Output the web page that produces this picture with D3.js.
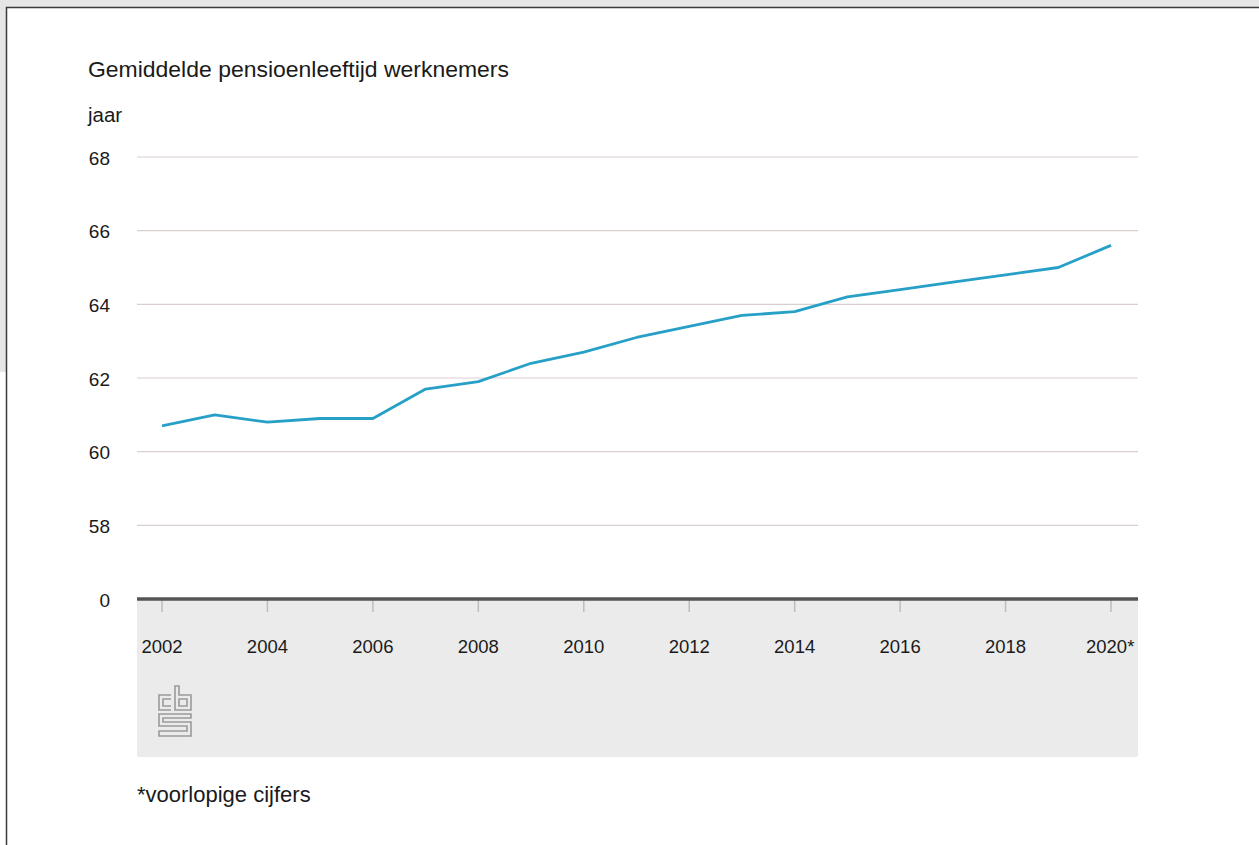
<!DOCTYPE html>
<html><head><meta charset="utf-8">
<script src="https://cdn.jsdelivr.net/npm/d3@7"></script>
<style>
html,body{margin:0;padding:0;background:#e6e6e6;}
svg{display:block;font-family:"Liberation Sans",Arial,sans-serif;}
</style></head>
<body>
<svg id="c" width="1259" height="845"></svg>
<script>
const years = [2002,2003,2004,2005,2006,2007,2008,2009,2010,2011,2012,2013,2014,2015,2016,2017,2018,2019,2020];
const ages  = [60.7,61.0,60.8,60.9,60.9,61.7,61.9,62.4,62.7,63.1,63.4,63.7,63.8,64.2,64.4,64.6,64.8,65.0,65.6];
const yTicks = [56,58,60,62,64,66,68];
const yTickLabels = ["0","58","60","62","64","66","68"];
const xTicks = [2002,2004,2006,2008,2010,2012,2014,2016,2018,2020];
const xTickLabels = ["2002","2004","2006","2008","2010","2012","2014","2016","2018","2020*"];
const title = "Gemiddelde pensioenleeftijd werknemers";
const unit = "jaar";
const footnote = "*voorlopige cijfers";

const svg = d3.select("#c");
// page background & panel
svg.append("rect").attr("x",0).attr("y",0).attr("width",1259).attr("height",845).attr("fill","#e6e6e6");
svg.append("rect").attr("x",0).attr("y",372).attr("width",7).attr("height",473).attr("fill","#ffffff");
svg.append("rect").attr("x",6.5).attr("y",7.5).attr("width",1260).attr("height",850)
  .attr("fill","#ffffff").attr("stroke","#3a3a3a").attr("stroke-width",1.5);

const left = 137, right = 1138;
const x = d3.scaleLinear().domain([2002,2020]).range([162,1111]);
const y = d3.scaleLinear().domain([56,68]).range([599,157]);

// grey area below axis
svg.append("rect").attr("x",left).attr("y",600).attr("width",right-left).attr("height",157).attr("fill","#ebebeb").attr("rx",2);

// title & unit
svg.append("text").attr("x",88).attr("y",77).attr("font-size",21.5).attr("fill","#1a1a1a")
  .attr("textLength",421).attr("lengthAdjust","spacingAndGlyphs").text(title);
svg.append("text").attr("x",88).attr("y",122).attr("font-size",20.5).attr("fill","#1a1a1a").text(unit);

// gridlines
svg.append("g").selectAll("line").data(yTicks.slice(1)).join("line")
  .attr("x1",left).attr("x2",right).attr("y1",d=>y(d)).attr("y2",d=>y(d))
  .attr("stroke","#d9d0cd").attr("stroke-width",1.2);

// y labels
svg.append("g").selectAll("text").data(yTicks).join("text")
  .attr("x",110).attr("y",d=>y(d)+7.5).attr("text-anchor","end").attr("font-size",19).attr("fill","#1a1a1a")
  .text((d,i)=>yTickLabels[i]);

// x ticks
svg.append("g").selectAll("line").data(xTicks).join("line")
  .attr("x1",d=>x(d)).attr("x2",d=>x(d)).attr("y1",600).attr("y2",612)
  .attr("stroke","#bdbdbd").attr("stroke-width",1.5);
svg.append("g").selectAll("text").data(xTicks).join("text")
  .attr("x",(d,i)=>i===xTicks.length-1 ? x(d)-25 : x(d)).attr("y",653)
  .attr("text-anchor",(d,i)=>i===xTicks.length-1 ? "start":"middle")
  .attr("font-size",18.5).attr("fill","#1a1a1a")
  .text((d,i)=>xTickLabels[i]);

// axis line
svg.append("line").attr("x1",left).attr("x2",right).attr("y1",599).attr("y2",599)
  .attr("stroke","#555555").attr("stroke-width",3.5);

// data line
svg.append("path").datum(years.map((yr,i)=>[yr,ages[i]]))
  .attr("fill","none").attr("stroke","#27a0c8").attr("stroke-width",2.8).attr("stroke-linejoin","round")
  .attr("d",d3.line().x(d=>x(d[0])).y(d=>y(d[1])));

// CBS logo (approximation)
const lg = svg.append("g").attr("transform","translate(158,685)").attr("fill","none").attr("stroke","#9a9a9a").attr("stroke-width",1.6);
lg.append("path").attr("d","M13,10 H1 V25 H13 M13,14 H5 V21 H13");
lg.append("path").attr("d","M17,1 V25 H33 V10 H21 V1 Z M21,14 H29 V21 H21 Z");
lg.append("path").attr("d","M33,29 H1 V41 H29 V46 H1 V51 H33 V37 H5 V33 H33 Z");
// footnote
svg.append("text").attr("x",137).attr("y",802).attr("font-size",22).attr("fill","#1a1a1a").text(footnote);
</script>
</body></html>
